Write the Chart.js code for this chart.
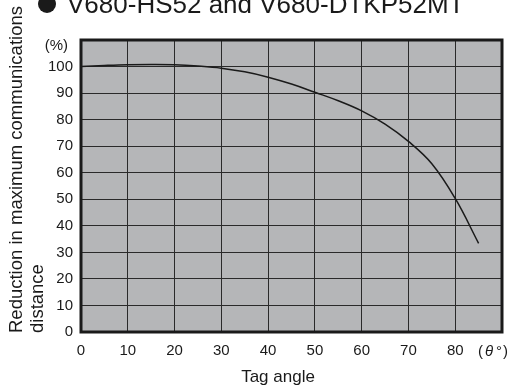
<!DOCTYPE html>
<html>
<head>
<meta charset="utf-8">
<script src="https://cdn.jsdelivr.net/npm/chart.js@4"></script>
<style>
  html, body { margin: 0; padding: 0; background: #fff; }
  #wrap { width: 514px; height: 389px; position: relative; }
</style>
</head>
<body>
<div id="wrap"><canvas id="chart" width="514" height="389"></canvas></div>
<script>
// ============ DATA ============
var angles    = [0, 5, 10, 15, 20, 25, 30, 35, 40, 45, 50, 55, 60, 65, 70, 75, 80, 85];
var reduction = [100, 100.4, 100.7, 100.8, 100.7, 100.2, 99.4, 98, 96, 93.4, 90.3, 87.1, 83.3, 78.3, 71.8, 63.4, 50.3, 33.4];
var xTicks    = [0, 10, 20, 30, 40, 50, 60, 70, 80];
var yTicks    = [0, 10, 20, 30, 40, 50, 60, 70, 80, 90, 100];

var FONT = "'Liberation Sans', Arial, sans-serif";

// ============ EXTRA TEXT ============
var labelsPlugin = {
  id: 'labels',
  beforeDraw: function(chart) {
    var ctx = chart.ctx, a = chart.chartArea;
    ctx.save();
    ctx.fillStyle = '#b5b6b8';
    ctx.fillRect(a.left, a.top, a.right - a.left, a.bottom - a.top);
    ctx.restore();
  },
  afterDraw: function(chart) {
    var ctx = chart.ctx, a = chart.chartArea;
    ctx.save();
    // frame
    ctx.strokeStyle = '#1a1a1a';
    ctx.lineWidth = 3;
    ctx.strokeRect(a.left, a.top, a.right - a.left, a.bottom - a.top);

    ctx.fillStyle = '#1a1a1a';
    // title
    ctx.beginPath();
    ctx.arc(47, 4, 9, 0, Math.PI * 2);
    ctx.fill();
    ctx.font = '26px ' + FONT;
    ctx.textBaseline = 'alphabetic';
    ctx.textAlign = 'left';
    ctx.fillText('V680-HS52 and V680-DTKP52MT', 67, 13);

    // units
    ctx.font = '15px ' + FONT;
    ctx.textAlign = 'right';
    ctx.fillText('(%)', 68, 50);
    ctx.textAlign = 'left';
    ctx.fillText('(', 478, 356);
    ctx.fillText('\u00b0', 496, 356);
    ctx.fillText(')', 503, 356);
    ctx.font = 'italic 15px ' + FONT;
    ctx.fillText('\u03b8', 485, 356);

    // x title
    ctx.font = '17px ' + FONT;
    ctx.textAlign = 'center';
    ctx.fillText('Tag angle', 278, 382);

    // y title (two lines, bottom aligned)
    ctx.font = '18.5px ' + FONT;
    ctx.translate(0, 333);
    ctx.rotate(-Math.PI / 2);
    ctx.textAlign = 'left';
    ctx.fillText('Reduction in maximum communications', 0, 22);
    ctx.fillText('distance', 0, 43);
    ctx.restore();
  }
};

new Chart(document.getElementById('chart'), {
  type: 'line',
  data: {
    datasets: [{
      data: angles.map(function(a, i) { return { x: a, y: reduction[i] }; }),
      borderColor: '#1a1a1a',
      borderWidth: 1.5,
      pointRadius: 0,
      tension: 0.4,
      fill: false
    }]
  },
  options: {
    responsive: false,
    animation: false,
    layout: { padding: { left: 0, top: 40, right: 12, bottom: 0 } },
    plugins: { legend: { display: false }, tooltip: { enabled: false } },
    scales: {
      x: {
        type: 'linear',
        min: 0, max: 90,
        afterFit: function(s) { s.height = 57; },
        afterBuildTicks: function(s) { s.ticks = xTicks.map(function(v) { return { value: v }; }); },
        grid: { color: '#2a2a2a', lineWidth: 1, drawTicks: false },
        border: { display: false },
        ticks: { color: '#1a1a1a', padding: 10, maxRotation: 0, font: { family: FONT, size: 15 } }
      },
      y: {
        min: 0, max: 110,
        afterFit: function(s) { s.width = 81; },
        afterBuildTicks: function(s) { s.ticks = yTicks.map(function(v) { return { value: v }; }); },
        grid: { color: '#2a2a2a', lineWidth: 1, drawTicks: false },
        border: { display: false },
        ticks: { color: '#1a1a1a', padding: 8, font: { family: FONT, size: 15 } }
      }
    }
  },
  plugins: [labelsPlugin]
});
</script>
</body>
</html>
